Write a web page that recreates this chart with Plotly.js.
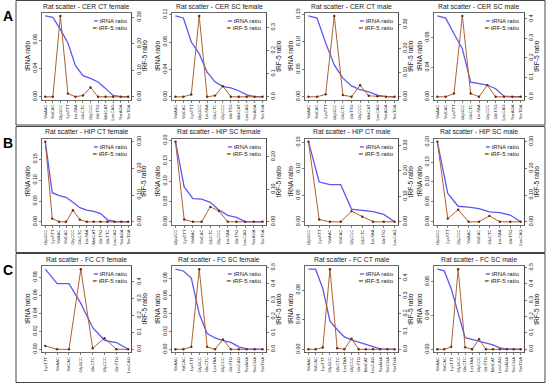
<!DOCTYPE html>
<html><head><meta charset="utf-8">
<script src="https://cdn.plot.ly/plotly-3.0.1.min.js"></script>
<style>html,body{margin:0;padding:0;background:#fff}#chart{width:550px;height:387px}</style>
</head><body><div id="chart"></div>
<script>
// ---------- data ----------
const panelTitles = ["Rat scatter - CER CT female","Rat scatter - CER SC female","Rat scatter - CER CT male","Rat scatter - CER SC male",
  "Rat scatter - HIP CT female","Rat scatter - HIP SC female","Rat scatter - HIP CT male","Rat scatter - HIP SC male",
  "Rat scatter - FC CT female","Rat scatter - FC SC female","Rat scatter - FC CT male","Rat scatter - FC SC male"];
const rowLabels = ["A","B","C"];
const leftTitle = "tRNA ratio", rightTitle = "tRF-5 ratio";

const catsA1 = ["ValAAC","ValCAC","GlyGCC","LysTTT","LeuTAA","GluCTC","GlyCCC","GlnTTG","MetCAT","LeuCAG","SerAGA","SerTGA"];
const trnaA1 = [0.114,0.112,0.095,0.076,0.044,0.030,0.026,0.021,0.012,0.002,0.0005,0.0002];
const trfA1  = [0.0,0.0,0.305,0.012,0.0,0.005,0.035,0.0,0.0,0.0,0.0,0.0];

const catsA2 = ["ValAAC","ValCAC","LysTTT","GlyGCC","LeuTAA","GluCTC","GlyCCC","GlnTTG","MetCAT","LeuCAG","SerAGA","SerTGA"];
const trnaA2 = [0.118,0.115,0.080,0.063,0.036,0.022,0.015,0.013,0.009,0.003,0.0005,0.0002];
const trfA2  = [0.0,0.0,0.01,0.35,0.0,0.005,0.046,0.0,0.0,0.0,0.0,0.0];

const catsA3 = ["ValAAC","ValCAC","LysTTT","GlyGCC","GluCTC","GlnTTG","GlyCCC","MetCAT","LeuCAG","SerAGA","SerTGA"];
const trnaA3 = [0.147,0.143,0.098,0.058,0.034,0.020,0.013,0.009,0.003,0.0005,0.0002];
const trfA3  = [0.0,0.0,0.01,0.335,0.007,0.0,0.048,0.004,0.002,0.0,0.0];

const catsA4 = ["ValAAC","ValCAC","LysTTT","GlyGCC","GluCTC","LeuTAA","GlyCCC","GlnTTG","LeuCAG","SerAGA","SerTGA"];
const trnaA4 = [0.109,0.106,0.085,0.065,0.020,0.018,0.016,0.011,0.001,0.0005,0.0002];
const trfA4  = [0.0,0.0,0.017,0.415,0.017,0.0,0.06,0.0,0.0,0.0,0.0];

const catsB1 = ["GlyGCC","LysTTT","ValAAC","ValCAC","GlyCCC","GluCTC","LeuTAA","MetCAT","GlnTTG","GluTTC","LeuCAG","SerAGA","SerTGA"];
const trnaB1 = [0.192,0.070,0.063,0.059,0.047,0.034,0.028,0.025,0.020,0.005,0.001,0.0005,0.0003];
const trfB1  = [0.30,0.012,0.0,0.0,0.043,0.008,0.0,0.0,0.0,0.0,0.0,0.0,0.0];

const catsB2 = ["GlyGCC","LysTTT","ValAAC","ValCAC","GluCTC","GlyCCC","LeuTAA","GlnTTG","LeuCAG","SerAGA","SerTGA"];
const trnaB2 = [0.197,0.086,0.057,0.056,0.048,0.029,0.016,0.011,0.0005,0.0003,0.0002];
const trfB2  = [0.247,0.007,0.0,0.0,0.046,0.033,0.0,0.0,0.0,0.0,0.0];

const catsB3 = ["GlyGCC","LysTTT","ValAAC","ValCAC","GlyCCC","GluCTC","LeuTAA","GlnTTG","LeuCAG"];
const trnaB3 = [0.151,0.075,0.070,0.070,0.024,0.022,0.019,0.014,0.0];
const trfB3  = [0.315,0.009,0.0,0.0,0.042,0.02,0.0,0.0,0.0];

const catsB4 = ["GlyGCC","LysTTT","GlyCCC","ValAAC","ValCAC","GluCTC","LeuTAA","GlnTTG","LeuCAG"];
const trnaB4 = [0.201,0.071,0.039,0.037,0.033,0.025,0.023,0.017,0.0];
const trfB4  = [0.30,0.012,0.045,0.0,0.0,0.022,0.0,0.0,0.0];

const catsC1 = ["LysTTT","ValAAC","ValCAC","GlyGCC","GluCTC","GlyCCC","GlnTTG","LeuCAG"];
const trnaC1 = [0.089,0.073,0.073,0.051,0.024,0.010,0.0075,0.0];
const trfC1  = [0.02,0.0,0.0,0.475,0.006,0.066,0.0,0.0];

const catsC2 = ["ValAAC","ValCAC","LysTTT","GlyGCC","GluCTC","LeuTAA","GlyCCC","GlnTTG","LeuCAG","SerAGA","SerCGA","SerTGA"];
const trnaC2 = [0.090,0.088,0.080,0.040,0.018,0.013,0.010,0.008,0.003,0.0008,0.0005,0.0003];
const trfC2  = [0.0,0.0,0.015,0.49,0.015,0.0,0.06,0.0,0.0,0.0,0.0,0.0];

const catsC3 = ["ValAAC","ValCAC","LysTTT","GlyGCC","GluCTC","LeuTAA","GlyCCC","GlnTTG","MetCAT","LeuCAG","SerAGA","SerCGA","SerTGA"];
const trnaC3 = [0.108,0.108,0.082,0.038,0.027,0.017,0.013,0.010,0.007,0.0036,0.0008,0.0005,0.0003];
const trfC3  = [0.0,0.0,0.01,0.45,0.006,0.0,0.06,0.0,0.0,0.0,0.0,0.0,0.0];

const catsC4 = ["ValAAC","ValCAC","LysTTT","GlyGCC","GluCTC","LeuTAA","GlyCCC","GlnTTG","MetCAT","LeuCAG","SerAGA","SerCGA","SerTGA"];
const trnaC4 = [0.095,0.093,0.072,0.042,0.014,0.012,0.010,0.008,0.0055,0.002,0.0005,0.0003,0.0002];
const trfC4  = [0.0,0.0,0.015,0.49,0.012,0.0,0.062,0.0,0.0,0.0,0.0,0.0,0.0];

// ---------- styling / layout ----------
const cats  = [catsA1,catsA2,catsA3,catsA4,catsB1,catsB2,catsB3,catsB4,catsC1,catsC2,catsC3,catsC4];
const trna  = [trnaA1,trnaA2,trnaA3,trnaA4,trnaB1,trnaB2,trnaB3,trnaB4,trnaC1,trnaC2,trnaC3,trnaC4];
const trf   = [trfA1,trfA2,trfA3,trfA4,trfB1,trfB2,trfB3,trfB4,trfC1,trfC2,trfC3,trfC4];
const leftDtick  = [0.04,0.04,0.05,0.04, 0.05,0.05,0.05,0.05, 0.02,0.02,0.04,0.04];
const rightDtick = [0.1,0.1,0.1,0.1, 0.1,0.1,0.1,0.1, 0.1,0.1,0.1,0.1];
const rightFmt   = [".2f",".1f",".2f",".1f", ".2f",".2f",".2f",".2f", ".1f",".1f",".1f",".1f"];

const W = 550, H = 387;
const colL = [42, 172, 305, 434], colR = [131.5, 266, 398, 524];
const rowT = [12.7, 138.5, 266], rowB = [100, 225, 352.5];
const FONT = "Arial, 'Liberation Sans', sans-serif";
const BLUE = "#5a5af0", RED = "#ad6232", DOT = "#6b2a0c", AXC = "#444";

function rrange(v){ const mn=Math.min(...v), mx=Math.max(...v), d=mx-mn; return [mn-0.04*d, mx+0.04*d]; }

const data = [], annotations = [], shapes = [];
const layout = {width:W, height:H, margin:{l:0,r:0,t:0,b:0}, showlegend:false,
  paper_bgcolor:"#fff", plot_bgcolor:"#fff", font:{family:FONT, color:"#222"}};

for (let i=0;i<12;i++){
  const r=Math.floor(i/4), c=i%4, n=cats[i].length;
  const xk = i===0?"xaxis":"xaxis"+(i+1), xr = i===0?"x":"x"+(i+1);
  const yL = 2*i+1, yR = 2*i+2;
  const ykL = yL===1?"yaxis":"yaxis"+yL, yrL = yL===1?"y":"y"+yL;
  const ykR = "yaxis"+yR, yrR = "y"+yR;
  const xd=[colL[c]/W, colR[c]/W], yd=[1-rowB[r]/H, 1-rowT[r]/H];
  const common = {showgrid:false, zeroline:false, ticks:"outside", ticklen:2, tickwidth:0.7, tickcolor:AXC,
    showline:true, linecolor:AXC, linewidth:0.8, fixedrange:true, automargin:false};
  layout[xk] = Object.assign({}, common, {domain:xd, anchor:yrL, type:"category",
    range:[-0.04*(n-1), (n-1)*1.04], tickangle:-90, tickfont:{size:4.2, color:"#222"}, mirror:true});
  layout[ykL] = Object.assign({}, common, {domain:yd, anchor:xr, range:rrange(trna[i]), dtick:leftDtick[i], tick0:0,
    tickformat:".2f", tickangle:-90, tickfont:{size:5.3, color:"#222"}, mirror:true});
  layout[ykR] = Object.assign({}, common, {overlaying:yrL, side:"right", anchor:xr, range:rrange(trf[i]), dtick:rightDtick[i], tick0:0,
    tickformat:rightFmt[i], tickangle:-90, tickfont:{size:5.3, color:"#222"}});
  data.push({type:"scatter", mode:"lines", x:cats[i], y:trna[i], xaxis:xr, yaxis:yrL,
    line:{color:BLUE, width:1.3}, name:"tRNA ratio", hoverinfo:"skip"});
  data.push({type:"scatter", mode:"lines+markers", x:cats[i], y:trf[i], xaxis:xr, yaxis:yrR,
    line:{color:RED, width:1.0}, marker:{size:2.4, color:DOT}, name:"tRF-5 ratio", hoverinfo:"skip"});
  const yMid = 1-((rowT[r]+rowB[r])/2)/H;
  // axis titles
  annotations.push({xref:"paper", yref:"paper", x:(colL[c]-14.5)/W, y:yMid, text:leftTitle, textangle:-90,
    showarrow:false, xanchor:"center", yanchor:"middle", font:{size:6.6, color:"#222"}});
  annotations.push({xref:"paper", yref:"paper", x:(colR[c]+12.5)/W, y:yMid, text:rightTitle, textangle:-90,
    showarrow:false, xanchor:"center", yanchor:"middle", font:{size:6.6, color:"#222"}});
  // panel title
  annotations.push({xref:"paper", yref:"paper", x:(colL[c]+colR[c])/2/W, y:1-(rowT[r]-6.5)/H,
    text:panelTitles[i], showarrow:false, xanchor:"center", yanchor:"middle", font:{size:6.8, color:"#222"}});
  // legend
  annotations.push({xref:"paper", yref:"paper", x:(colR[c]-2)/W, y:1-(rowT[r]+8)/H, xanchor:"right", yanchor:"middle",
    showarrow:false, align:"left", text:"<span style='color:"+BLUE+"'><b>━</b></span> tRNA ratio", font:{size:6, color:"#222"}});
  annotations.push({xref:"paper", yref:"paper", x:(colR[c]-2)/W, y:1-(rowT[r]+15)/H, xanchor:"right", yanchor:"middle",
    showarrow:false, align:"left", text:"<span style='color:#8b4513'><b>━</b></span> tRF-5 ratio", font:{size:6, color:"#222"}});
}
// row frames and labels
const frameT = [0.5, 126.5, 253.5], frameB = [125, 252.5, 382.5];
for (let r=0;r<3;r++){
  shapes.push({type:"rect", xref:"paper", yref:"paper", x0:16/W, x1:545/W, y0:1-frameB[r]/H, y1:1-frameT[r]/H,
    line:{color:"#444", width:1}, fillcolor:"rgba(0,0,0,0)"});
  annotations.push({xref:"paper", yref:"paper", x:7.5/W, y:1-(frameT[r]+16)/H, text:"<b>"+rowLabels[r]+"</b>",
    showarrow:false, xanchor:"center", yanchor:"middle", font:{size:14, color:"#000"}});
}
layout.annotations = annotations; layout.shapes = shapes;
Plotly.newPlot("chart", data, layout, {displayModeBar:false, staticPlot:true});
</script></body></html>
